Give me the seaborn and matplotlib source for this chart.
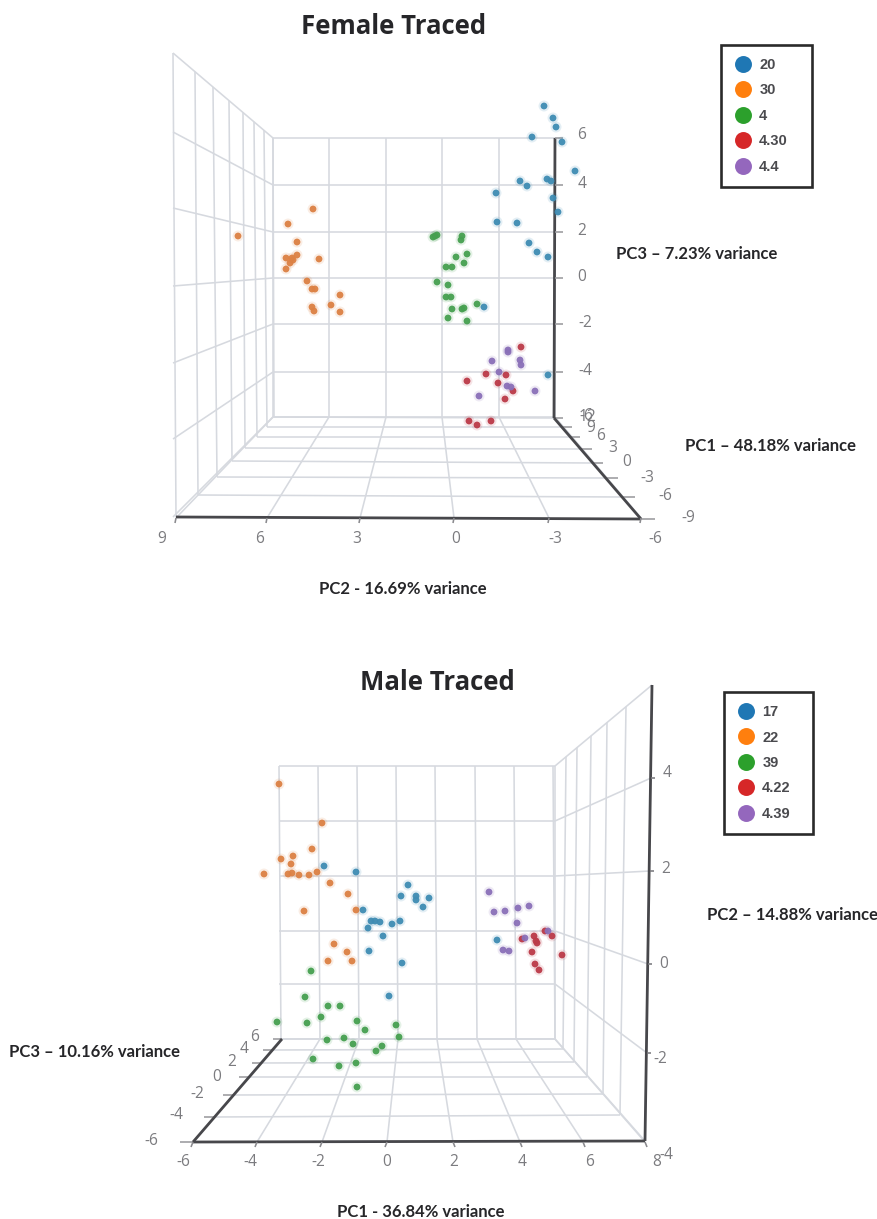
import numpy as np
import pandas as pd
import matplotlib
matplotlib.use('Agg')
import matplotlib.pyplot as plt
from matplotlib.lines import Line2D
import seaborn as sns

f20_x = [544, 553, 556, 532, 562, 575, 520, 527, 547, 551, 553, 558, 496, 497, 517, 529, 537, 548, 484, 548]
f20_y = [106, 118, 127, 137, 142, 171, 181, 186, 179, 181, 198, 212, 193, 222, 223, 243, 252, 257, 307, 375]
f30_x = [313, 288, 238, 297, 319, 297, 292, 286, 290, 286, 307, 312, 315, 340, 331, 312, 314, 340, 293]
f30_y = [209, 224, 236, 242, 259, 255, 258, 258, 263, 269, 281, 289, 289, 295, 305, 307, 311, 312, 260]
f4_x = [433, 437, 435, 462, 461, 456, 467, 464, 446, 452, 437, 448, 446, 451, 452, 462, 464, 477, 448, 467]
f4_y = [237, 235, 236, 236, 240, 257, 254, 263, 267, 267, 282, 285, 297, 297, 309, 309, 308, 304, 318, 321]
f430_x = [521, 486, 506, 467, 498, 513, 505, 469, 477, 491]
f430_y = [347, 374, 375, 381, 383, 391, 399, 421, 425, 421]
f44_x = [508, 508, 492, 520, 521, 499, 507, 511, 535, 479]
f44_y = [350, 352, 361, 360, 365, 372, 386, 387, 391, 396]

m17_x = [324, 356, 408, 401, 416, 416, 429, 423, 363, 371, 375, 380, 368, 392, 400, 383, 369, 402, 389, 497]
m17_y = [866, 872, 885, 896, 896, 900, 898, 907, 910, 921, 921, 922, 928, 924, 921, 936, 951, 963, 996, 940]
m22_x = [279, 322, 312, 281, 293, 291, 264, 288, 292, 299, 309, 317, 330, 348, 356, 304, 334, 347, 328, 352]
m22_y = [784, 823, 849, 859, 856, 864, 874, 874, 873, 875, 875, 872, 883, 894, 910, 911, 944, 952, 961, 961]
m39_x = [311, 305, 328, 340, 321, 277, 307, 357, 365, 396, 399, 327, 344, 353, 382, 376, 313, 339, 356, 357]
m39_y = [971, 997, 1006, 1006, 1017, 1022, 1023, 1021, 1030, 1025, 1037, 1040, 1038, 1044, 1046, 1051, 1059, 1066, 1063, 1087]
m422_x = [545, 552, 534, 537, 532, 562, 535, 539, 522, 536]
m422_y = [931, 936, 936, 943, 952, 955, 964, 970, 939, 941]
m439_x = [489, 494, 505, 518, 529, 517, 503, 509, 525, 548]
m439_y = [892, 912, 911, 908, 906, 923, 950, 951, 938, 931]

female_groups = ['20', '30', '4', '4.30', '4.4']
male_groups = ['17', '22', '39', '4.22', '4.39']
legend_colors = ['#1f77b4', '#ff7f0e', '#2ca02c', '#d62728', '#9467bd']
dot_colors = ['#3f8cb3', '#dc8144', '#46a050', '#bb3a48', '#8a70b8']

female_z_labels = ['6', '4', '2', '0', '-2', '-4', '-6']
female_pc1_labels = ['12', '9', '6', '3', '0', '-3', '-6', '-9']
female_pc2_labels = ['9', '6', '3', '0', '-3', '-6']
male_z_labels = ['4', '2', '0', '-2', '-4']
male_pc3_labels = ['6', '4', '2', '0', '-2', '-4', '-6']
male_pc1_labels = ['-6', '-4', '-2', '0', '2', '4', '6', '8']

GRID = '#d6d9df'
AXIS = '#47474b'
TICK = '#7b7b7f'
TEXT = '#262629'

sns.set_theme(style='white')
plt.rcParams['font.family'] = ['Open Sans', 'DejaVu Sans']

fig = plt.figure(figsize=(8.78, 12.19), dpi=100)
split = 610
ax1 = fig.add_axes([0, 1 - split / 1219, 1, split / 1219])
ax2 = fig.add_axes([0, 0, 1, 1 - split / 1219])
ax1.set_xlim(0, 878)
ax1.set_ylim(split, 0)
ax2.set_xlim(0, 878)
ax2.set_ylim(1219, split)
ax1.axis('off')
ax2.axis('off')


def seg(ax, x0, y0, x1, y1, color=GRID, lw=1.15):
    ax.plot([x0, x1], [y0, y1], color=color, lw=lw, zorder=1, solid_capstyle='butt')


def points(ax, xs, ys, groups):
    df = pd.concat([pd.DataFrame({'x': x, 'y': y, 'group': g}) for x, y, g in zip(xs, ys, groups)])
    pal = dict(zip(groups, dot_colors))
    # soft halo, the source is a blurry scan
    sns.scatterplot(data=df, x='x', y='y', hue='group', palette=pal, s=62, alpha=0.14,
                    linewidth=0, legend=False, ax=ax, zorder=3)
    sns.scatterplot(data=df, x='x', y='y', hue='group', palette=pal, s=24, alpha=0.95,
                    linewidth=0, legend=False, ax=ax, zorder=4)
    ax.set_xlabel('')
    ax.set_ylabel('')
    ax.set_xlim(0, 878)


def box_legend(ax, groups, x, y, w):
    handles = [Line2D([], [], marker='o', ls='', color=c, markersize=12.2, markeredgewidth=0)
               for c in legend_colors]
    leg = ax.legend(handles, groups, loc='upper left', bbox_to_anchor=(x, y, w, 0), bbox_transform=ax.transData,
                    mode='expand', frameon=True, fancybox=False, framealpha=1, edgecolor='#2a2a2a', borderpad=0.9,
                    labelspacing=0.78, handletextpad=0.45, handlelength=1.27, borderaxespad=0,
                    prop={'family': 'Liberation Sans', 'size': 10.5, 'weight': 'bold'})
    leg.get_frame().set_linewidth(1.9)
    for t in leg.get_texts():
        t.set_color('#4a4a4e')


def tick_text(ax, x, y, s):
    ax.text(x, y, s, ha='center', va='center', fontsize=11.2, color=TICK)


def label(ax, x, y, s):
    ax.text(x, y, s, ha='center', va='center', fontsize=12, fontweight='bold', color=TEXT, family='Lato')


# ---- Female panel ----
back_x = [273, 329, 386, 442, 499, 555]
front_x = [176, 267, 360, 454, 549, 641]
back_y = [138, 185, 232, 278, 324, 372, 417]
side_y = [53, 132, 208, 286, 363, 439, 517]
wall_top = [273, 264, 254, 243, 229, 213, 195, 173]
wall_bot = [274, 267, 257, 245, 232, 217, 198, 176]
floor_l = [417, 427, 437, 448, 461, 477, 495, 517]
floor_r = [418, 427, 437, 449, 463, 478, 497, 519]
diag_r = [555, 563, 571, 581, 593, 606, 622, 641]
tick_r = [563, 572, 580, 592, 603, 618, 635, 655]

for x in back_x:
    seg(ax1, x, 138, x, 417)
for y in back_y:
    seg(ax1, 273, y, 555, y)
for y0, y1 in zip(side_y, back_y):
    seg(ax1, 173, y0, 273, y1)
for xt, xb, yb in zip(wall_top, wall_bot, floor_l):
    seg(ax1, xt, np.interp(xt, [173, 273], [53, 138]), xb, yb)
for xb, xf in zip(back_x, front_x):
    seg(ax1, xb, 417, xf, 518)
for xl, yl, xr, yr, xt in zip(wall_bot, floor_l, diag_r, floor_r, tick_r):
    seg(ax1, xl, yl, xr, yr)
    seg(ax1, xr, yr, xt, yr, color='#9a9a9e')
seg(ax1, 555, 138, 554, 418, color=AXIS, lw=2)
seg(ax1, 554, 418, 641, 519, color=AXIS, lw=2)
seg(ax1, 641, 519, 176, 517, color=AXIS, lw=2)
for y in back_y[:-1]:
    seg(ax1, 555, y, 563, y, color='#9a9a9e')
for x in front_x:
    seg(ax1, x, 518, x - 1, 523, color='#8a8a8e')

points(ax1, [f20_x, f30_x, f4_x, f430_x, f44_x], [f20_y, f30_y, f4_y, f430_y, f44_y], female_groups)
box_legend(ax1, female_groups, 721, 45, 91)

for s, x, y in zip(female_z_labels, [582, 582, 582, 582, 585, 585, 586], [135, 184, 231, 277, 323, 371, 416]):
    tick_text(ax1, x, y, s)
for s, x, y in zip(female_pc1_labels, [587, 591, 601, 613, 627, 647, 665, 688], [417, 428, 436, 448, 462, 478, 496, 518]):
    tick_text(ax1, x, y, s)
for s, x in zip(female_pc2_labels, [162, 260, 357, 456, 555, 655]):
    tick_text(ax1, x, 539, s)

ax1.text(394, 27, 'Female Traced', ha='center', va='center', fontsize=18.5, fontweight='bold', color=TEXT, family='Open Sans')
label(ax1, 697, 254, 'PC3 – 7.23% variance')
label(ax1, 771, 446, 'PC1 – 48.18% variance')
label(ax1, 403, 589, 'PC2 - 16.69% variance')

# ---- Male panel ----
mback_x = [281, 320, 359, 398, 437, 477, 516, 555]
mfront_x = [193, 257, 322, 387, 453, 520, 583, 645]
mback_y = [766, 821, 876, 931, 984, 1039]
mside_y = [685, 778, 871, 964, 1053, 1141]
mside_x = [652, 651, 650, 648, 647, 645]
mwall_top = [555, 566, 577, 591, 607, 626, 652]
mwall_bot = [555, 563, 574, 587, 603, 620, 645]
mfloor_l = [1039, 1050, 1063, 1077, 1095, 1117, 1142]
mfloor_r = [1039, 1049, 1062, 1077, 1094, 1115, 1141]
mdiag_l = [282, 273, 261, 249, 233, 214, 193]
mtick_l = [273, 263, 252, 239, 223, 204, 180]

for x in mback_x:
    seg(ax2, x - 2, 766, x, 1039)
for y in mback_y:
    seg(ax2, 279, y, 555, y)
for y0, x1, y1 in zip(mback_y, mside_x, mside_y):
    seg(ax2, 555, y0, x1, y1)
for xt, xb, yb in zip(mwall_top, mwall_bot, mfloor_r):
    seg(ax2, xt, np.interp(xt, [555, 652], [766, 685]), xb, yb)
for xb, xf in zip(mback_x, mfront_x):
    seg(ax2, xb, 1039, xf, 1142)
for xl, yl, xr, yr, xt in zip(mdiag_l, mfloor_l, mwall_bot, mfloor_r, mtick_l):
    seg(ax2, xl, yl, xr, yr)
    seg(ax2, xl, yl, xt, yl, color='#9a9a9e')
seg(ax2, 652, 685, 645, 1141, color=AXIS, lw=2)
seg(ax2, 645, 1141, 193, 1142, color=AXIS, lw=2)
seg(ax2, 193, 1142, 282, 1039, color=AXIS, lw=2)
for x, y in zip(mside_x[1:5], mside_y[1:5]):
    seg(ax2, x, y, x + 4, y, color='#7a7a7e')
for x in mfront_x:
    seg(ax2, x, 1142, x + 2 if x > 387 else x - 2, 1147, color='#8a8a8e')

points(ax2, [m17_x, m22_x, m39_x, m422_x, m439_x], [m17_y, m22_y, m39_y, m422_y, m439_y], male_groups)
ax2.set_ylim(1219, split)
box_legend(ax2, male_groups, 724, 692, 89)

for s, x, y in zip(male_z_labels, [667, 666, 664, 660, 666], [773, 869, 964, 1059, 1155]):
    tick_text(ax2, x, y, s)
for s, x, y in zip(male_pc3_labels, [255, 244, 232, 217, 197, 176, 151], [1037, 1049, 1062, 1077, 1094, 1115, 1141]):
    tick_text(ax2, x, y, s)
for s, x in zip(male_pc1_labels, [183, 250, 318, 387, 454, 522, 590, 657]):
    tick_text(ax2, x, 1162, s)

ax2.text(437, 682, 'Male Traced', ha='center', va='center', fontsize=18.5, fontweight='bold', color=TEXT, family='Open Sans')
label(ax2, 793, 915, 'PC2 – 14.88% variance')
label(ax2, 95, 1052, 'PC3 – 10.16% variance')
label(ax2, 421, 1212, 'PC1 - 36.84% variance')

fig.savefig('out.png', dpi=100)
